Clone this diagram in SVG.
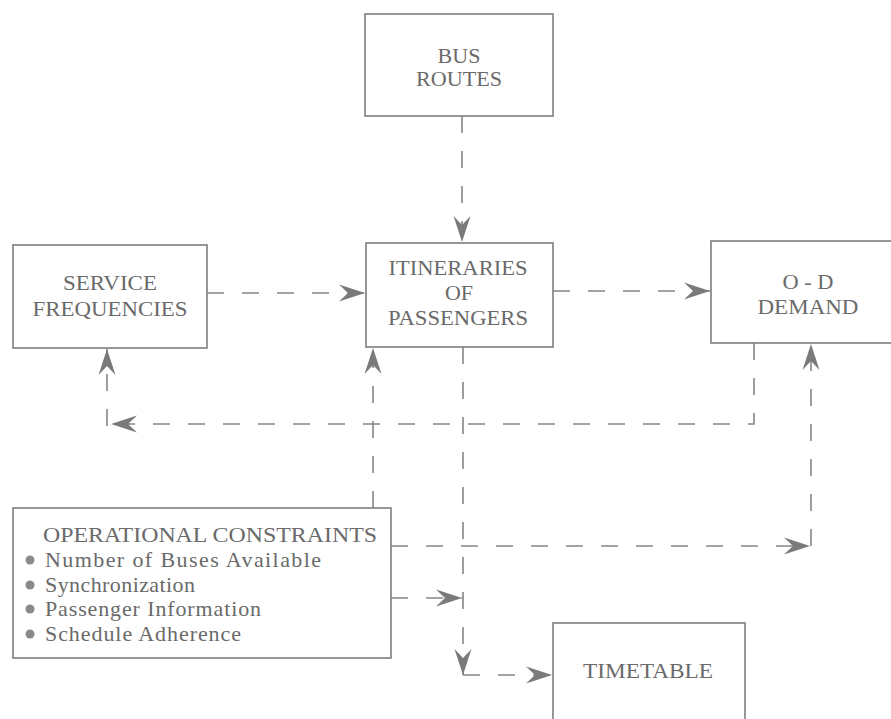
<svg xmlns="http://www.w3.org/2000/svg" width="891" height="719" viewBox="0 0 891 719">
  <style>
    .box { fill: #ffffff; stroke: #7d7d7d; stroke-width: 1.6; }
    .lbl { font-family: "Liberation Serif", "Times New Roman", serif; font-size: 22px; fill: #6a6a6a; text-anchor: middle; }
    .item { font-family: "Liberation Serif", "Times New Roman", serif; font-size: 22px; fill: #6a6a6a; }
    .bullet { fill: #8a8a8a; }
    .flow { fill: none; stroke: #858585; stroke-width: 1.6; stroke-dasharray: 17 18; }
  </style>
  <defs>
    <marker id="head" viewBox="-28 -10 30 20" refX="0" refY="0" markerWidth="30" markerHeight="20" markerUnits="userSpaceOnUse" orient="auto">
      <path d="M0,0 L-26,-8.5 L-17,0 L-26,8.5 Z" fill="#7a7a7a"/>
    </marker>
  </defs>

  <rect width="891" height="719" fill="#ffffff"/>

  <!-- connectors -->
  <g id="connectors">
    <!-- routes feed itineraries -->
    <path class="flow" d="M462,116 V242" marker-end="url(#head)"/>
    <!-- frequencies feed itineraries -->
    <path class="flow" d="M207,293 H365" marker-end="url(#head)"/>
    <!-- itineraries feed O-D demand -->
    <path class="flow" d="M553,291 H710" marker-end="url(#head)"/>
    <!-- demand feeds back to frequencies -->
    <path class="flow" d="M754,343 V424 H111" marker-end="url(#head)"/>
    <path class="flow" d="M107,426 V349" marker-end="url(#head)"/>
    <!-- constraints feed itineraries -->
    <path class="flow" d="M373,508 V348" marker-end="url(#head)"/>
    <!-- itineraries lead to timetable -->
    <path class="flow" d="M463,347 V675" marker-end="url(#head)"/>
    <path class="flow" d="M463,675 H552" marker-end="url(#head)"/>
    <!-- constraints feed O-D demand -->
    <path class="flow" d="M391,546 H810" marker-end="url(#head)"/>
    <path class="flow" d="M811,546 V344" marker-end="url(#head)"/>
    <!-- constraints join the timetable path -->
    <path class="flow" d="M391,598 H462" marker-end="url(#head)"/>
  </g>

  <g id="bus-routes">
    <rect class="box" x="365" y="14" width="188" height="102"/>
    <text class="lbl" x="459" y="63">BUS</text>
    <text class="lbl" x="459" y="86" textLength="86" lengthAdjust="spacingAndGlyphs">ROUTES</text>
  </g>

  <g id="service-frequencies">
    <rect class="box" x="13" y="245" width="194" height="103"/>
    <text class="lbl" x="110" y="290" textLength="94" lengthAdjust="spacingAndGlyphs">SERVICE</text>
    <text class="lbl" x="110" y="316" textLength="155" lengthAdjust="spacingAndGlyphs">FREQUENCIES</text>
  </g>

  <g id="itineraries">
    <rect class="box" x="366" y="243" width="187" height="104"/>
    <text class="lbl" x="458" y="275" textLength="139" lengthAdjust="spacingAndGlyphs">ITINERARIES</text>
    <text class="lbl" x="459" y="300">OF</text>
    <text class="lbl" x="458" y="325" textLength="140" lengthAdjust="spacingAndGlyphs">PASSENGERS</text>
  </g>

  <g id="od-demand">
    <rect class="box" x="711" y="241" width="200" height="102"/>
    <text class="lbl" x="808" y="289" textLength="51" lengthAdjust="spacingAndGlyphs">O - D</text>
    <text class="lbl" x="808" y="314" textLength="101" lengthAdjust="spacingAndGlyphs">DEMAND</text>
  </g>

  <g id="operational-constraints">
    <rect class="box" x="13" y="508" width="378" height="150"/>
    <text class="item" x="43" y="542" textLength="334" lengthAdjust="spacingAndGlyphs">OPERATIONAL CONSTRAINTS</text>
    <circle class="bullet" cx="30" cy="560" r="4.5"/>
    <text class="item" x="45" y="567" textLength="276" lengthAdjust="spacing">Number of Buses Available</text>
    <circle class="bullet" cx="30" cy="585" r="4.5"/>
    <text class="item" x="45" y="592" textLength="150" lengthAdjust="spacing">Synchronization</text>
    <circle class="bullet" cx="30" cy="609" r="4.5"/>
    <text class="item" x="45" y="616" textLength="216" lengthAdjust="spacing">Passenger Information</text>
    <circle class="bullet" cx="30" cy="634" r="4.5"/>
    <text class="item" x="45" y="641" textLength="196" lengthAdjust="spacing">Schedule Adherence</text>
  </g>

  <g id="timetable">
    <rect class="box" x="553" y="623" width="192" height="110"/>
    <text class="lbl" x="648" y="678" textLength="130" lengthAdjust="spacingAndGlyphs">TIMETABLE</text>
  </g>
</svg>
